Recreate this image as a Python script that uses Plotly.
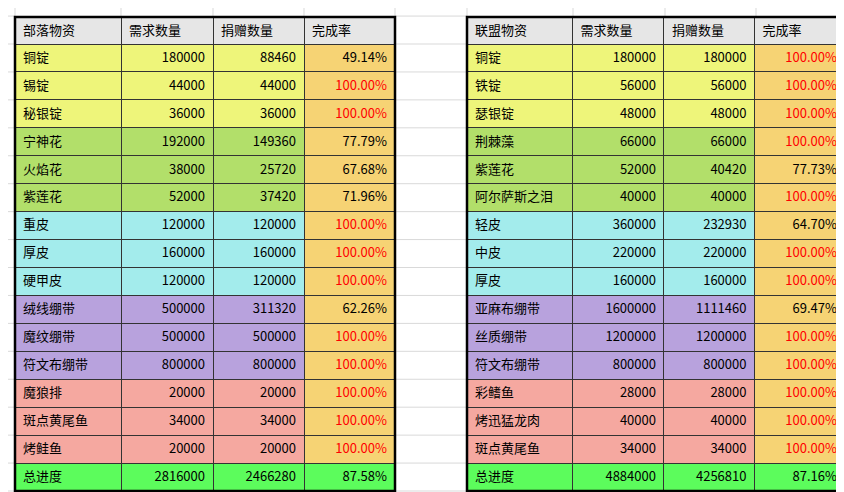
import plotly.graph_objects as go

W, H = 844, 492

# 部落
horde_items = ['铜锭', '锡锭', '秘银锭', '宁神花', '火焰花', '紫莲花', '重皮', '厚皮', '硬甲皮',
               '绒线绷带', '魔纹绷带', '符文布绷带', '魔狼排', '斑点黄尾鱼', '烤鲑鱼', '总进度']
horde_need = [180000, 44000, 36000, 192000, 38000, 52000, 120000, 160000, 120000,
              500000, 500000, 800000, 20000, 34000, 20000, 2816000]
horde_given = [88460, 44000, 36000, 149360, 25720, 37420, 120000, 160000, 120000,
               311320, 500000, 800000, 20000, 34000, 20000, 2466280]
horde_rate = ['49.14%', '100.00%', '100.00%', '77.79%', '67.68%', '71.96%', '100.00%', '100.00%',
              '100.00%', '62.26%', '100.00%', '100.00%', '100.00%', '100.00%', '100.00%', '87.58%']

# 联盟
alliance_items = ['铜锭', '铁锭', '瑟银锭', '荆棘藻', '紫莲花', '阿尔萨斯之泪', '轻皮', '中皮', '厚皮',
                  '亚麻布绷带', '丝质绷带', '符文布绷带', '彩鳍鱼', '烤迅猛龙肉', '斑点黄尾鱼', '总进度']
alliance_need = [180000, 56000, 48000, 66000, 52000, 40000, 360000, 220000, 160000,
                 1600000, 1200000, 800000, 28000, 40000, 34000, 4884000]
alliance_given = [180000, 56000, 48000, 66000, 40420, 40000, 232930, 220000, 160000,
                  1111460, 1200000, 800000, 28000, 40000, 34000, 4256810]
alliance_rate = ['100.00%', '100.00%', '100.00%', '100.00%', '77.73%', '100.00%', '64.70%', '100.00%',
                 '100.00%', '69.47%', '100.00%', '100.00%', '100.00%', '100.00%', '100.00%', '87.16%']

group_colors = ['#eef57a'] * 3 + ['#b2df6a'] * 3 + ['#a3ecec'] * 3 + ['#b8a2dd'] * 3 + ['#f5a8a0'] * 3 + ['#5cfc5c']
rate_colors = ['#f6d374'] * 15 + ['#5cfc5c']

top, bottom = 9, 483
header_h = 27
row_h = (bottom - top - header_h) / 16
font = dict(family='Noto Sans CJK SC', size=13, color='black')


def make_table(title, items, need, given, rate, x0, x1):
    rate_font = ['red' if r == '100.00%' else 'black' for r in rate]
    return go.Table(
        domain=dict(x=[x0 / W, x1 / W], y=[1 - bottom / H, 1 - top / H]),
        columnwidth=[106, 92, 91, 91],
        header=dict(values=[title, '需求数量', '捐赠数量', '完成率'],
                    fill_color='#e6e6e6', line=dict(color='#333', width=1),
                    align='left', height=header_h, font=font),
        cells=dict(values=[items, need, given, rate],
                   fill_color=[group_colors, group_colors, group_colors, rate_colors],
                   line=dict(color='#333', width=1),
                   align=['left', 'right', 'right', 'right'], height=row_h,
                   font=dict(family=font['family'], size=13,
                             color=[['black'] * 16, ['black'] * 16, ['black'] * 16, rate_font])),
    )


fig = go.Figure([
    make_table('部落物资', horde_items, horde_need, horde_given, horde_rate, 7, 387),
    make_table('联盟物资', alliance_items, alliance_need, alliance_given, alliance_rate, 459, 837),
])

shapes = []
# faint spreadsheet grid outside the tables
grid = '#d9d9d9'
ys = [top + header_h + i * row_h for i in range(-1, 17)]
for y in ys:
    for xa, xb in [(0, 7), (387, 459), (837, W)]:
        shapes.append(dict(type='line', xref='paper', yref='paper', x0=xa / W, x1=xb / W,
                           y0=1 - y / H, y1=1 - y / H, line=dict(color=grid, width=1)))
for x in [7, 113, 205, 296, 387, 459, 565, 657, 748, 837]:
    shapes.append(dict(type='line', xref='paper', yref='paper', x0=x / W, x1=x / W,
                       y0=0, y1=1 - bottom / H, line=dict(color=grid, width=1)))
    shapes.append(dict(type='line', xref='paper', yref='paper', x0=x / W, x1=x / W,
                       y0=1 - top / H, y1=1, line=dict(color=grid, width=1)))
# thick outer borders
for xa, xb in [(7, 387), (459, 837)]:
    shapes.append(dict(type='rect', xref='paper', yref='paper', x0=xa / W, x1=xb / W,
                       y0=1 - bottom / H, y1=1 - top / H, line=dict(color='black', width=2.5)))

fig.update_layout(width=W, height=H, margin=dict(l=0, r=0, t=0, b=0),
                  paper_bgcolor='white', shapes=shapes)
fig.write_html('out.html')
